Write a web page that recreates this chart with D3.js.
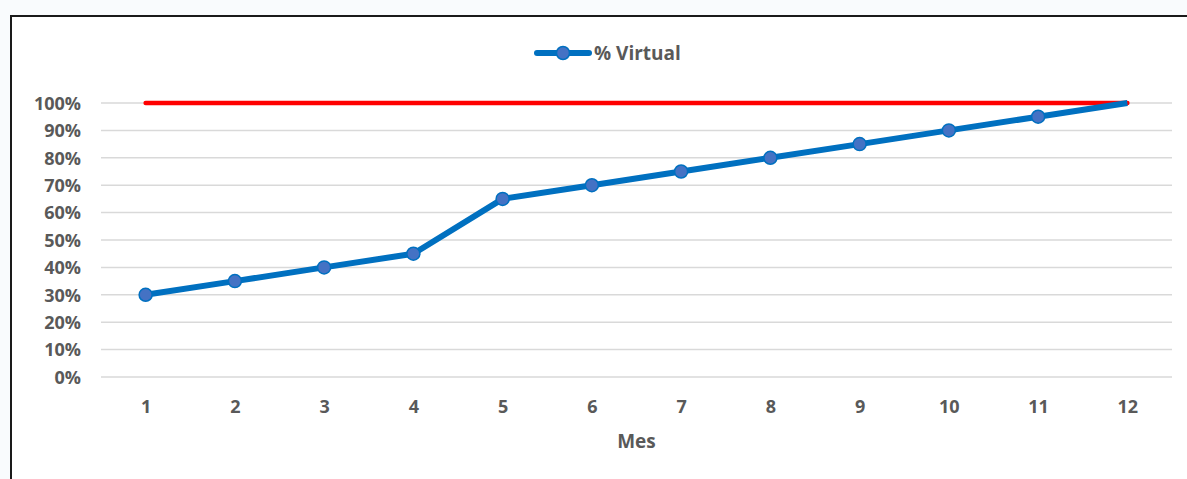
<!DOCTYPE html>
<html><head><meta charset="utf-8">
<script src="https://cdn.jsdelivr.net/npm/d3@7"></script>
<style>
html,body{margin:0;padding:0;background:#f9fbfd;}
svg{display:block;}
text{font-family:"Open Sans",Lato,sans-serif;font-weight:700;fill:#595959;}
</style></head><body>
<svg id="c" width="1187" height="479"></svg>
<script>
const months = ["1","2","3","4","5","6","7","8","9","10","11","12"];
const virtual = [0.30,0.35,0.40,0.45,0.65,0.70,0.75,0.80,0.85,0.90,0.95,1.00];
const target = [1,1,1,1,1,1,1,1,1,1,1,1];
const yTicks = [0,0.1,0.2,0.3,0.4,0.5,0.6,0.7,0.8,0.9,1.0];
const seriesName = "% Virtual";
const xTitle = "Mes";

const svg = d3.select("#c");
svg.append("rect").attr("x",11).attr("y",16).attr("width",1200).attr("height",500)
  .attr("fill","#fff").attr("stroke","#1a1a1a").attr("stroke-width",2);

const L=101,R=1172,T=103,B=377;
const x = d3.scalePoint().domain(months).range([L,R]).padding(0.5);
const y = d3.scaleLinear().domain([0,1]).range([B,T]);

svg.append("g").selectAll("line").data(yTicks).join("line")
  .attr("x1",L).attr("x2",R).attr("y1",d=>y(d)).attr("y2",d=>y(d))
  .attr("stroke","#d9d9d9").attr("stroke-width",1.5);

const ya = svg.append("g").attr("transform",`translate(${L-20},0)`)
  .call(d3.axisLeft(y).tickValues(yTicks).tickFormat(d3.format(".0%")).tickSize(0).tickPadding(0));
ya.select(".domain").remove();
ya.selectAll("text").attr("font-size",18).attr("dy","0.35em");

const xa = svg.append("g").attr("transform",`translate(0,${B+30})`)
  .call(d3.axisBottom(x).tickSize(0).tickPadding(0));
xa.select(".domain").remove();
xa.selectAll("text").attr("font-size",18).attr("dy","0.35em");

svg.append("text").attr("x",(L+R)/2).attr("y",441).attr("text-anchor","middle")
  .attr("dy","0.35em").attr("font-size",19).text(xTitle);

svg.append("path").datum(target)
  .attr("d",d3.line().x((d,i)=>x(months[i])).y(d=>y(d)))
  .attr("fill","none").attr("stroke","#ff0000").attr("stroke-width",4.5).attr("stroke-linecap","round");

svg.append("path").datum(virtual)
  .attr("d",d3.line().x((d,i)=>x(months[i])).y(d=>y(d)))
  .attr("fill","none").attr("stroke","#0070c0").attr("stroke-width",6).attr("stroke-linejoin","round");

svg.append("g").selectAll("circle").data(virtual.slice(0,11)).join("circle")
  .attr("cx",(d,i)=>x(months[i])).attr("cy",d=>y(d)).attr("r",6.5)
  .attr("fill","#4472c4").attr("stroke","#0070c0").attr("stroke-width",1.5);

const lg = svg.append("g");
lg.append("line").attr("x1",537).attr("x2",589).attr("y1",53).attr("y2",53)
  .attr("stroke","#0070c0").attr("stroke-width",6).attr("stroke-linecap","round");
lg.append("circle").attr("cx",563).attr("cy",53).attr("r",6.5)
  .attr("fill","#4472c4").attr("stroke","#0070c0").attr("stroke-width",1.5);
lg.append("text").attr("x",594).attr("y",53).attr("dy","0.35em").attr("font-size",19).text(seriesName);
</script>
</body></html>
